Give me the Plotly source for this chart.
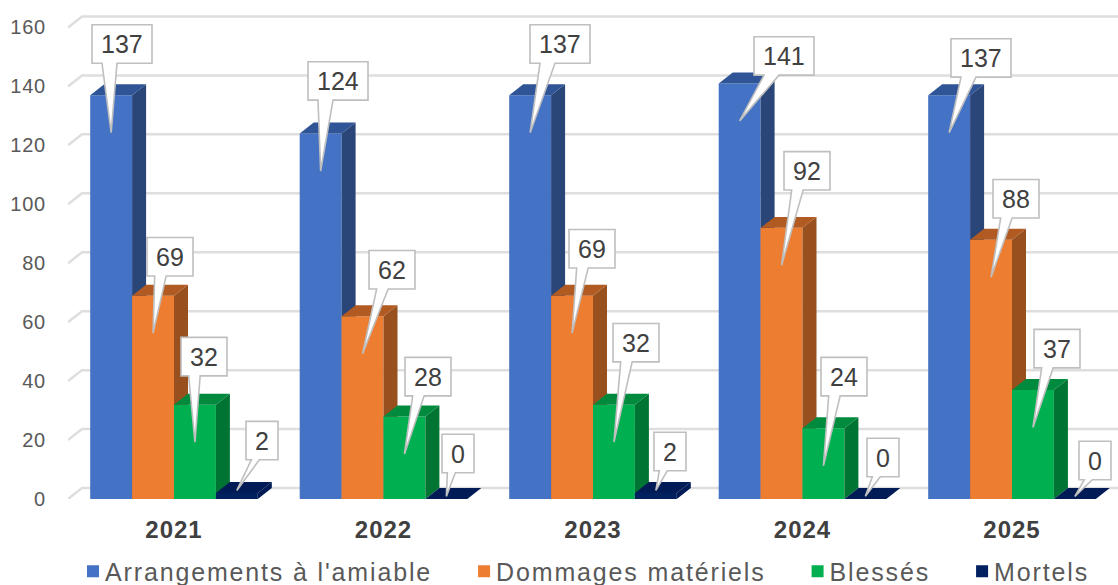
import plotly.graph_objects as go

years = [2021, 2022, 2023, 2024, 2025]
series_names = ["Arrangements à l'amiable", "Dommages matériels", "Blessés", "Mortels"]
arrangements = [137, 124, 137, 141, 137]
dommages = [69, 62, 69, 92, 88]
blesses = [32, 28, 32, 24, 37]
mortels = [2, 0, 2, 0, 0]
y_ticks = [0, 20, 40, 60, 80, 100, 120, 140, 160]

front_colors = ["#4472C4", "#ED7D31", "#00B050", "#002060"]
top_colors = ["#2F5597", "#B15B22", "#008A3E", "#001B55"]
side_colors = ["#2A4578", "#98501F", "#007433", "#001B55"]

# centre of each data-label box, in picture pixels
label_cx = [[122, 338, 560, 784, 981], [170, 392, 592, 807, 1016],
            [204, 428, 636, 844, 1057], [262, 458, 670, 883, 1095]]
label_cy = [[44, 81, 44, 56, 58], [257, 270, 249, 171, 199],
            [357, 377, 343, 377, 349], [441, 454, 452, 458, 461]]

W, H = 1118, 585
PX_YEAR, PX_UNIT = 209.5, 2.95
X0_PX, Y0_PX = 174.0, 499.5
LEFT_PX = 68
BAR_W = 0.2
DX, DY = 14 / PX_YEAR, 11 / PX_UNIT


def fx(px):
    return years[0] + (px - X0_PX) / PX_YEAR


def fy(py):
    return (Y0_PX - py) / PX_UNIT


def spaced(text, px):
    return f'<span style="letter-spacing:{px}px">{text}</span>'


x_range = [fx(LEFT_PX), fx(W)]
y_range = [0, Y0_PX / PX_UNIT]
values = [arrangements, dommages, blesses, mortels]

fig = go.Figure()

# 3-D looking gridlines on the base axes
gx, gy = [], []
for t in y_ticks:
    gx += [x_range[0], x_range[0] + DX, x_range[1], None]
    gy += [t, t + DY, t + DY, None]
fig.add_trace(go.Scatter(x=gx, y=gy, mode="lines", line=dict(color="#DEDEDE", width=2.5),
                         showlegend=False, hoverinfo="skip"))

# one overlaid axis pair per series, so later series cover earlier side faces
for i, (name, vals) in enumerate(zip(series_names, values)):
    ax = str(i + 2)
    offset = -0.4 + i * BAR_W
    fig.add_trace(go.Bar(x=years, y=vals, name=spaced(name, 1.85), width=BAR_W, offset=offset,
                         marker=dict(color=front_colors[i], line=dict(width=0)),
                         xaxis="x" + ax, yaxis="y" + ax, hoverinfo="skip"))
    sx, sy, tx, ty = [], [], [], []
    for yr, v in zip(years, vals):
        l = yr + offset
        r = l + BAR_W
        sx += [r, r + DX, r + DX, r, r, None]
        sy += [0, DY, v + DY, v, 0, None]
        tx += [l, l + DX, r + DX, r, l, None]
        ty += [v, v + DY, v + DY, v, v, None]
    fig.add_trace(go.Scatter(x=sx, y=sy, mode="lines", fill="toself", fillcolor=side_colors[i],
                             line=dict(width=0), showlegend=False, hoverinfo="skip",
                             xaxis="x" + ax, yaxis="y" + ax))
    fig.add_trace(go.Scatter(x=tx, y=ty, mode="lines", fill="toself", fillcolor=top_colors[i],
                             line=dict(width=0), showlegend=False, hoverinfo="skip",
                             xaxis="x" + ax, yaxis="y" + ax))

# callouts
shapes, annotations = [], []
for i, vals in enumerate(values):
    for j, v in enumerate(vals):
        cx, cy = label_cx[i][j], label_cy[i][j]
        w = {3: 60, 2: 46, 1: 32}[len(str(v))]
        h = 38.5
        x0, x1, y0, y1 = cx - w / 2, cx + w / 2, cy - h / 2, cy + h / 2
        b0, b1 = x0 + w / 6, x0 + w * 5 / 12
        tip_x = years[j] - 0.4 + (i + 0.5) * BAR_W
        tip_y = v - 12.7 if v > 13 else v + 0.9
        pts = [(fx(x0), fy(y0)), (fx(x1), fy(y0)), (fx(x1), fy(y1)), (fx(b1), fy(y1)),
               (tip_x, tip_y), (fx(b0), fy(y1)), (fx(x0), fy(y1))]
        path = "M" + " L".join(f"{a:.5f},{b:.4f}" for a, b in pts) + " Z"
        shapes.append(dict(type="path", path=path, xref="x", yref="y", layer="above",
                           fillcolor="#FFFFFF", line=dict(color="#BFBFBF", width=1.6)))
        annotations.append(dict(x=fx(cx), y=fy(cy), xref="x", yref="y", text=str(v), showarrow=False,
                                font=dict(family="Liberation Sans", size=25, color="#404040")))

fig.update_layout(
    width=W, height=H, autosize=False,
    margin=dict(l=LEFT_PX, r=0, t=0, b=H - Y0_PX, pad=0, autoexpand=False),
    paper_bgcolor="#FFFFFF", plot_bgcolor="#FFFFFF",
    barmode="overlay", shapes=shapes, annotations=annotations,
    font=dict(family="Liberation Sans", color="#595959"),
    hovermode=False,
    xaxis=dict(range=x_range, tickmode="array", tickvals=years,
               ticktext=[spaced(f"<b>{y}</b>", 1) for y in years],
               tickfont=dict(size=24, color="#404040"), showgrid=False, zeroline=False,
               showline=False, ticks="outside", ticklen=9, tickcolor="rgba(0,0,0,0)"),
    yaxis=dict(range=y_range, tickmode="array", tickvals=y_ticks,
               ticktext=[spaced(str(t), 0.8) for t in y_ticks],
               tickfont=dict(size=20, color="#595959"), showgrid=False, zeroline=False,
               showline=False, ticks="outside", ticklen=17, tickcolor="rgba(0,0,0,0)"),
    legend=dict(orientation="h", x=(46 - LEFT_PX) / (W - LEFT_PX), xanchor="left", y=-0.099, yanchor="top",
                font=dict(size=25, color="#595959"), bgcolor="rgba(0,0,0,0)", itemclick=False,
                itemdoubleclick=False, itemwidth=49),
)
for i in range(2, 6):
    fig.update_layout({
        f"xaxis{i}": dict(range=x_range, overlaying="x", visible=False, matches="x"),
        f"yaxis{i}": dict(range=y_range, overlaying="y", visible=False, matches="y"),
    })

post = """
document.body.style.margin = '0';
document.querySelectorAll('.legend .legendpoints').forEach(function (g) {
  g.setAttribute('transform', 'translate(17.5,0)');
});
"""
fig.write_html("out.html", post_script=post, config={"displayModeBar": False})
